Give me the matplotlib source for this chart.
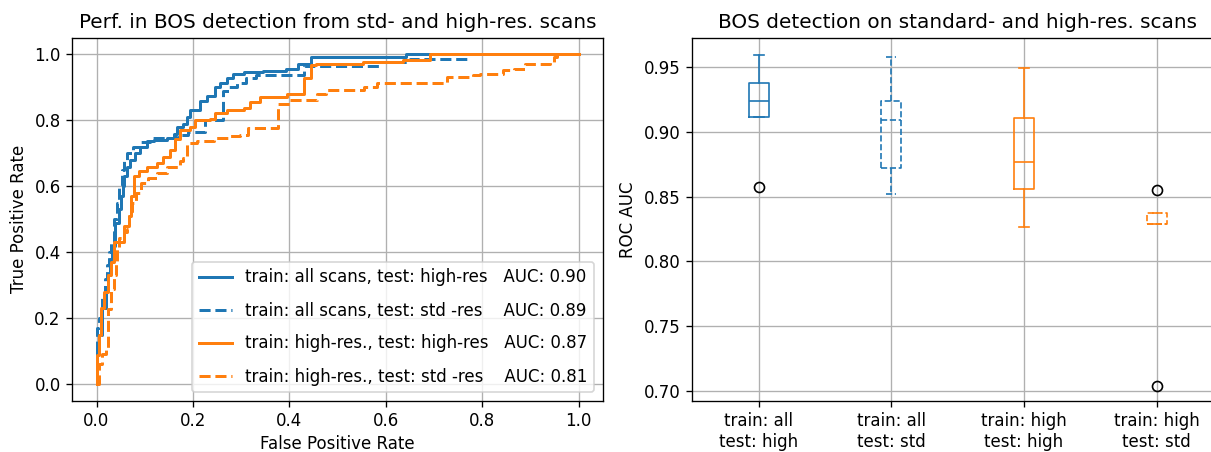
import matplotlib
matplotlib.use("Agg")
import matplotlib.pyplot as plt

# ---------------- ROC curves (step corner points) -------------
fpr_all_high = [0, 0, 0.0055, 0.012, 0.019, 0.023, 0.028, 0.033, 0.039, 0.047, 0.050,
                0.054, 0.057, 0.063, 0.070, 0.080, 0.090, 0.105, 0.119, 0.146, 0.160,
                0.167, 0.180, 0.188, 0.194, 0.215, 0.229, 0.246, 0.256, 0.270, 0.284,
                0.305, 0.346, 0.394, 0.419, 0.446, 0.643, 1.0]
tpr_all_high = [0, 0.10, 0.15, 0.23, 0.29, 0.33, 0.38, 0.42, 0.49, 0.53, 0.57,
                0.60, 0.63, 0.66, 0.68, 0.70, 0.72, 0.737, 0.74, 0.747, 0.76,
                0.78, 0.79, 0.81, 0.833, 0.858, 0.874, 0.90, 0.914, 0.929, 0.94,
                0.946, 0.95, 0.955, 0.97, 0.993, 1.0, 1.0]

fpr_all_std = [0, 0, 0.005, 0.012, 0.018, 0.022, 0.026, 0.030, 0.036, 0.042, 0.047,
               0.052, 0.058, 0.064, 0.075, 0.090, 0.111, 0.166, 0.190, 0.225, 0.263,
               0.275, 0.291, 0.310, 0.330, 0.430, 0.588, 0.650, 0.768, 1.0]
tpr_all_std = [0, 0.17, 0.20, 0.26, 0.32, 0.36, 0.40, 0.43, 0.50, 0.55, 0.60,
               0.65, 0.68, 0.70, 0.72, 0.735, 0.746, 0.755, 0.766, 0.80, 0.89,
               0.90, 0.912, 0.93, 0.937, 0.965, 0.977, 0.985, 1.0, 1.0]

fpr_high_high = [0, 0, 0.005, 0.009, 0.016, 0.023, 0.030, 0.037, 0.057, 0.068, 0.071,
                 0.078, 0.088, 0.105, 0.126, 0.139, 0.153, 0.163, 0.174, 0.194, 0.205,
                 0.236, 0.246, 0.270, 0.305, 0.318, 0.339, 0.395, 0.431, 0.446, 0.456,
                 0.553, 0.636, 0.692, 1.0]
tpr_high_high = [0, 0.087, 0.15, 0.23, 0.28, 0.33, 0.37, 0.43, 0.48, 0.51, 0.57,
                 0.63, 0.645, 0.66, 0.67, 0.69, 0.71, 0.742, 0.772, 0.78, 0.80,
                 0.803, 0.823, 0.833, 0.838, 0.856, 0.871, 0.881, 0.93, 0.967, 0.972,
                 0.977, 0.984, 1.0, 1.0]

fpr_high_std = [0, 0.005, 0.012, 0.019, 0.023, 0.030, 0.036, 0.040, 0.043, 0.047,
                0.057, 0.064, 0.068, 0.074, 0.081, 0.092, 0.106, 0.126, 0.147, 0.174,
                0.180, 0.188, 0.208, 0.243, 0.277, 0.298, 0.315, 0.377, 0.401, 0.457,
                0.476, 0.554, 0.581, 0.727, 0.782, 0.796, 0.844, 0.866, 0.889, 0.941,
                0.950, 0.955, 1.0]
tpr_high_std = [0.0, 0.06, 0.09, 0.107, 0.228, 0.288, 0.33, 0.37, 0.41, 0.444,
                0.46, 0.47, 0.51, 0.55, 0.58, 0.61, 0.626, 0.64, 0.66, 0.676,
                0.686, 0.73, 0.737, 0.747, 0.752, 0.757, 0.777, 0.851, 0.861, 0.881,
                0.893, 0.901, 0.912, 0.932, 0.937, 0.942, 0.952, 0.957, 0.972, 0.977,
                0.992, 1.0, 1.0]

roc_names = ["train: all scans, test: high-res",
             "train: all scans, test: std -res",
             "train: high-res., test: high-res",
             "train: high-res., test: std -res"]
roc_auc = [0.90, 0.89, 0.87, 0.81]

# ---------------- Box plot statistics -------------
box_labels = ["train: all\ntest: high", "train: all\ntest: std",
              "train: high\ntest: high", "train: high\ntest: std"]
box_q1 = [0.9111, 0.8722, 0.8560, 0.8289]
box_med = [0.9234, 0.9093, 0.8770, 0.8289]
box_q3 = [0.9374, 0.9234, 0.9103, 0.8374]
box_whislo = [0.9111, 0.8521, 0.8268, 0.8289]
box_whishi = [0.9590, 0.9577, 0.9490, 0.8374]
box_fliers = [[0.8577], [], [], [0.8552, 0.7039]]

# ---------------- Figure -------------
DPI = 120
W, H = 1211, 452
fig = plt.figure(figsize=(W / DPI, H / DPI), dpi=DPI)
ax1 = fig.add_axes([72.4 / W, (H - 400.5) / H, 530.2 / W, 362.5 / H])
ax2 = fig.add_axes([692.3 / W, (H - 400.5) / H, 530.7 / W, 362.5 / H])

blue, orange = "#1f77b4", "#ff7f0e"
curves = [(fpr_all_high, tpr_all_high, blue, "-"),
          (fpr_all_std, tpr_all_std, blue, "--"),
          (fpr_high_high, tpr_high_high, orange, "-"),
          (fpr_high_std, tpr_high_std, orange, "--")]
pads = [3, 4, 3, 4]
for (f, t, c, ls), name, auc, p in zip(curves, roc_names, roc_auc, pads):
    ax1.step(f, t, where="post", color=c, linestyle=ls, lw=1.8,
             label=f"{name}{' ' * p}AUC: {auc:.2f}")
ax1.set_xlim(-0.05, 1.05)
ax1.set_ylim(-0.05, 1.05)
ax1.set_xticks([0, 0.2, 0.4, 0.6, 0.8, 1.0])
ax1.set_yticks([0, 0.2, 0.4, 0.6, 0.8, 1.0])
ax1.grid(True)
ax1.set_xlabel("False Positive Rate", labelpad=3)
ax1.set_ylabel("True Positive Rate")
ax1.set_title("Perf. in BOS detection from std- and high-res. scans")
ax1.legend(loc="lower right", labelspacing=0.9)

box_colors = [blue, blue, orange, orange]
box_styles = ["-", "--", "-", "--"]
for i in range(4):
    st = [dict(med=box_med[i], q1=box_q1[i], q3=box_q3[i],
               whislo=box_whislo[i], whishi=box_whishi[i],
               fliers=box_fliers[i], label=box_labels[i])]
    kw = dict(color=box_colors[i], linestyle=box_styles[i])
    ax2.bxp(st, positions=[i + 1], widths=0.15,
            boxprops=kw, whiskerprops=kw, capprops=kw, medianprops=kw,
            flierprops=dict(marker="o", markerfacecolor="none",
                            markeredgecolor="black"))
ax2.set_xlim(0.5, 4.5)
ax2.set_xticks([1, 2, 3, 4])
ax2.set_xticklabels(box_labels)
ax2.set_ylim(0.6927, 0.9723)
ax2.set_yticks([0.70, 0.75, 0.80, 0.85, 0.90, 0.95])
ax2.grid(True)
ax2.set_axisbelow(True)
ax2.set_ylabel("ROC AUC")
ax2.set_title("BOS detection on standard- and high-res. scans")

fig.savefig("out.png", dpi=DPI)
